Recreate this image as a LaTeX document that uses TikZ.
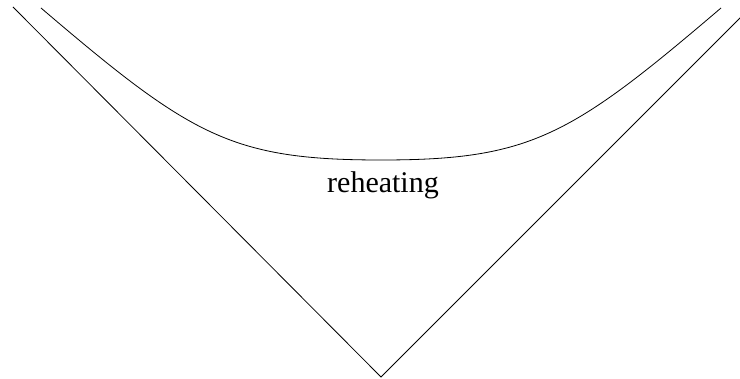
\documentclass[tikz,border=0pt]{standalone}
\usepackage{fontspec}
\setmainfont{Liberation Serif}
\usetikzlibrary{positioning}
\tikzset{
  coneline/.style={draw=black, line width=0.8pt},
  reheatcurve/.style={draw=black, line width=0.8pt},
  labeltext/.style={font=\fontsize{30}{36}\selectfont, anchor=base, inner sep=0pt}
}
\begin{document}
\begin{tikzpicture}[x=1pt, y=-1pt]

  % Frame
  \useasboundingbox (0,0) rectangle (740,379);
  \clip (0,0) rectangle (740,379);

  % Light cone
  \coordinate (apex) at (381,377);
  \coordinate (leftTop) at (13,7);
  \coordinate (rightTop) at (751,7);
  \draw[coneline] (leftTop) -- (apex) -- (rightTop);

  % Reheating surface
  \coordinate (curveL) at (41,8);
  \coordinate (curveMid) at (381,160);
  \coordinate (curveR) at (721,8);
  \draw[reheatcurve] (curveL) .. controls (191,136) and (231,160) .. (curveMid)
    .. controls (531,160) and (571,136) .. (curveR);

  % Label
  \node[labeltext] (reheat) at (383,193) {reheating};

\end{tikzpicture}
\end{document}
